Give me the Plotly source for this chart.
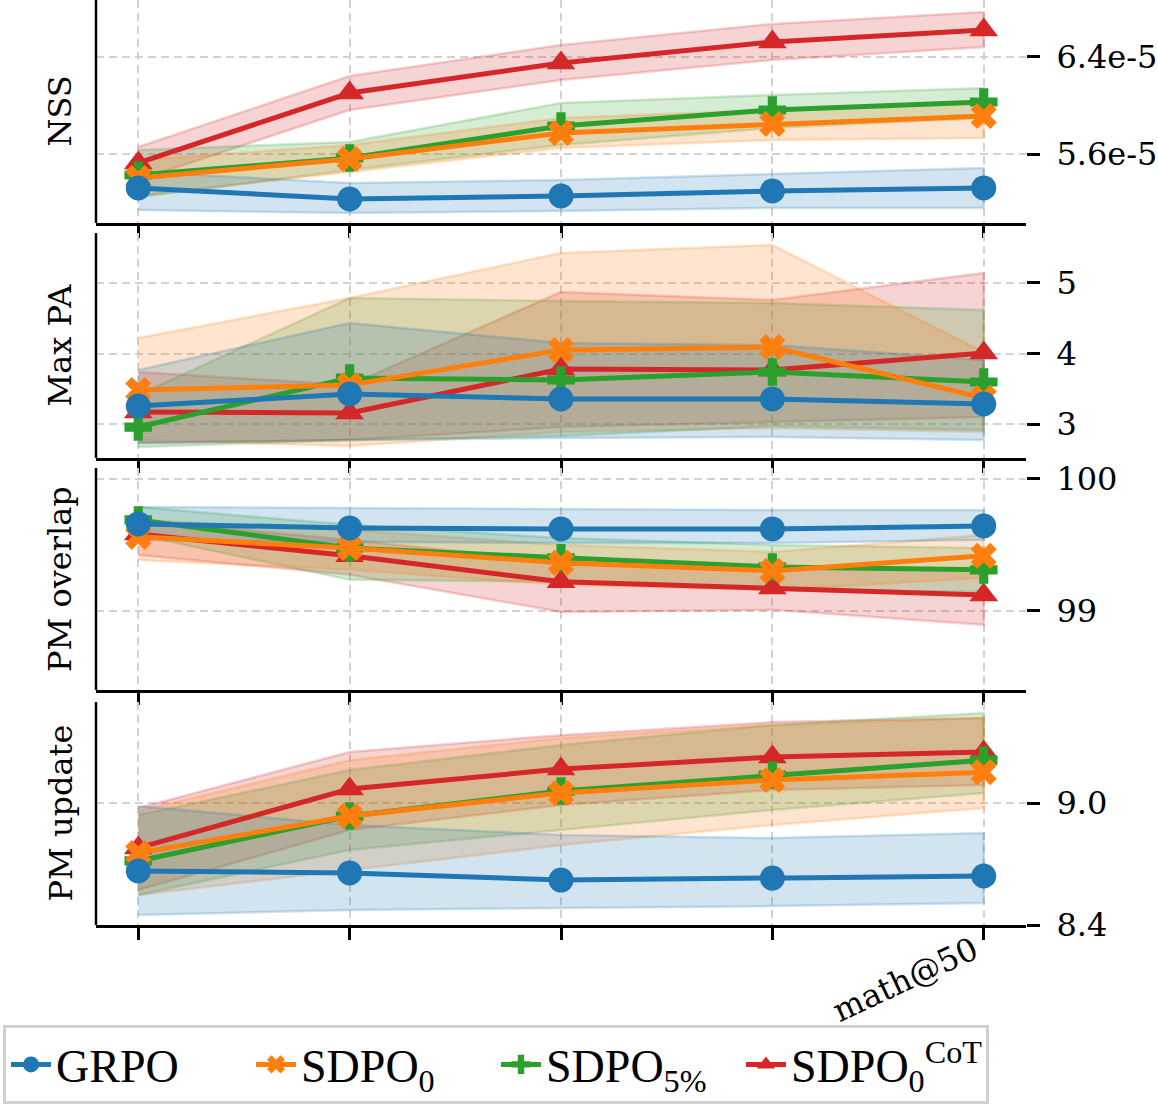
import plotly.graph_objects as go

# ---------------- data ----------------
x_idx = [0, 1, 2, 3, 4]
x_ticktext = ["", "", "", "", "math@50"]

methods = ["GRPO", "SDPO<sub>0</sub>", "SDPO<sub>5%</sub>", "SDPO<sub>0</sub><sup>CoT</sup>"]
colors = ["#1f77b4", "#ff7f0e", "#2ca02c", "#d62728"]
symbols = ["circle", "x", "cross", "triangle-up"]
marker_sizes = [25, 23, 23, 25]

# NSS (order: GRPO, SDPO_0, SDPO_5%, SDPO_0^CoT)
nss_mean = [
    [5.320e-5, 5.229e-5, 5.254e-5, 5.295e-5, 5.320e-5],
    [5.402e-5, 5.559e-5, 5.773e-5, 5.847e-5, 5.913e-5],
    [5.427e-5, 5.567e-5, 5.831e-5, 5.963e-5, 6.029e-5],
    [5.526e-5, 6.103e-5, 6.351e-5, 6.524e-5, 6.623e-5],
]
nss_low = [
    [5.138e-5, 5.113e-5, 5.130e-5, 5.155e-5, 5.155e-5],
    [5.254e-5, 5.452e-5, 5.650e-5, 5.715e-5, 5.732e-5],
    [5.245e-5, 5.468e-5, 5.674e-5, 5.814e-5, 5.897e-5],
    [5.386e-5, 5.963e-5, 6.210e-5, 6.375e-5, 6.482e-5],
]
nss_high = [
    [5.452e-5, 5.361e-5, 5.386e-5, 5.435e-5, 5.485e-5],
    [5.551e-5, 5.674e-5, 5.897e-5, 5.963e-5, 6.037e-5],
    [5.633e-5, 5.699e-5, 6.021e-5, 6.087e-5, 6.144e-5],
    [5.658e-5, 6.243e-5, 6.499e-5, 6.672e-5, 6.771e-5],
]

# Max PA
pa_mean = [
    [3.255, 3.426, 3.355, 3.355, 3.284],
    [3.482, 3.553, 4.050, 4.092, 3.369],
    [2.957, 3.652, 3.624, 3.738, 3.596],
    [3.170, 3.156, 3.780, 3.766, 4.007],
]
pa_low = [
    [2.730, 2.773, 2.801, 2.816, 2.773],
    [2.773, 2.688, 2.887, 2.943, 2.887],
    [2.674, 2.773, 2.830, 2.972, 2.915],
    [2.730, 2.773, 2.957, 3.028, 3.099],
]
pa_high = [
    [3.766, 4.433, 4.149, 4.121, 3.908],
    [4.220, 4.787, 5.426, 5.539, 4.021],
    [3.411, 4.787, 4.745, 4.716, 4.617],
    [3.738, 3.553, 4.872, 4.759, 5.142],
]

# PM overlap
ov_mean = [
    [99.659, 99.629, 99.621, 99.621, 99.644],
    [99.561, 99.477, 99.364, 99.303, 99.417],
    [99.689, 99.477, 99.402, 99.333, 99.311],
    [99.583, 99.417, 99.220, 99.174, 99.121],
]
ov_low = [
    [99.538, 99.523, 99.515, 99.515, 99.538],
    [99.386, 99.311, 99.197, 99.159, 99.250],
    [99.576, 99.235, 99.220, 99.159, 99.144],
    [99.424, 99.273, 98.992, 99.008, 98.894],
]
ov_high = [
    [99.788, 99.780, 99.773, 99.765, 99.765],
    [99.689, 99.614, 99.500, 99.447, 99.576],
    [99.788, 99.652, 99.553, 99.500, 99.477],
    [99.689, 99.538, 99.371, 99.326, 99.311],
]

# PM update
up_mean = [
    [8.666, 8.656, 8.621, 8.631, 8.641],
    [8.754, 8.936, 9.049, 9.113, 9.152],
    [8.715, 8.936, 9.059, 9.138, 9.211],
    [8.779, 9.069, 9.167, 9.226, 9.251],
]
up_low = [
    [8.449, 8.474, 8.484, 8.493, 8.508],
    [8.548, 8.670, 8.793, 8.892, 8.975],
    [8.548, 8.769, 8.867, 8.966, 9.049],
    [8.572, 8.867, 8.990, 9.064, 9.089],
]
up_high = [
    [8.985, 8.892, 8.843, 8.828, 8.852],
    [8.961, 9.211, 9.320, 9.384, 9.418],
    [8.941, 9.162, 9.285, 9.384, 9.443],
    [8.975, 9.251, 9.334, 9.398, 9.418],
]

panel_titles = ["NSS", "Max PA", "PM overlap", "PM update"]
panel_ranges = [[5.031e-5, 6.87e-5], [2.518, 5.709], [98.40, 100.083], [8.4, 9.497]]
panel_tickvals = [[5.6e-5, 6.4e-5], [3, 4, 5], [99, 100], [8.4, 9.0]]
panel_ticktext = [["5.6e-5", "6.4e-5"], ["3", "4", "5"], ["99", "100"], ["8.4", "9.0"]]

# ---------------- figure ----------------
W, H = 1158, 1112
ML, MR, MT, MB = 96, 132, 0, 187
plot_w = W - ML - MR
plot_h = H - MT - MB
# panel pixel extents (top, bottom) measured from top of plot area
panel_px = [(0, 223), (233, 458), (468, 690), (702, 925)]
domains = [[(plot_h - b) / plot_h, (plot_h - t) / plot_h] for t, b in panel_px]

panels = [
    (nss_mean, nss_low, nss_high),
    (pa_mean, pa_low, pa_high),
    (ov_mean, ov_low, ov_high),
    (up_mean, up_low, up_high),
]


def rgba(hexc, a):
    h = hexc.lstrip("#")
    r, g, b = int(h[0:2], 16), int(h[2:4], 16), int(h[4:6], 16)
    return f"rgba({r},{g},{b},{a})"


fig = go.Figure()
order = [3, 2, 1, 0]
for p, (m_mean, m_low, m_high) in enumerate(panels):
    xa = "x" if p == 0 else f"x{p + 1}"
    ya = "y" if p == 0 else f"y{p + 1}"
    for i in order:
        fig.add_trace(go.Scatter(
            x=x_idx + x_idx[::-1],
            y=m_high[i] + m_low[i][::-1],
            fill="toself",
            fillcolor=rgba(colors[i], 0.2),
            line=dict(color=rgba(colors[i], 0.22), width=2.5),
            mode="lines",
            hoverinfo="skip",
            showlegend=False,
            xaxis=xa, yaxis=ya,
        ))
    for i in order:
        fig.add_trace(go.Scatter(
            x=x_idx, y=m_mean[i],
            mode="lines+markers",
            name=methods[i],
            legendrank=i + 1,
            line=dict(color=colors[i], width=5),
            marker=dict(symbol=symbols[i], size=marker_sizes[i], color=colors[i],
                        line=dict(width=0)),
            showlegend=(p == 0),
            xaxis=xa, yaxis=ya,
        ))

grid_color = "#d2d2d2"
tick_font = dict(family="DejaVu Serif", size=32, color="black")
layout = dict(
    width=W, height=H,
    margin=dict(l=ML, r=MR, t=MT, b=MB, autoexpand=False),
    paper_bgcolor="white", plot_bgcolor="white",
    showlegend=True,
    legend=dict(
        orientation="h",
        xref="paper", yref="paper",
        x=(3 - ML) / plot_w, y=-(1025 - plot_h) / plot_h,
        xanchor="left", yanchor="top",
        bordercolor="#d0d0d0", borderwidth=3,
        bgcolor="rgba(255,255,255,0.8)",
        font=dict(family="Liberation Serif", size=46, color="black"),
        entrywidthmode="pixels", entrywidth=190,
        itemwidth=40,
        tracegroupgap=0,
    ),
    annotations=[],
    shapes=[],
)

for p in range(4):
    xk = "xaxis" if p == 0 else f"xaxis{p + 1}"
    yk = "yaxis" if p == 0 else f"yaxis{p + 1}"
    xa = "x" if p == 0 else f"x{p + 1}"
    ya = "y" if p == 0 else f"y{p + 1}"
    layout[xk] = dict(
        domain=[0, 1], anchor=ya,
        range=[-0.2, 4.2],
        tickmode="array", tickvals=x_idx,
        ticktext=x_ticktext if p == 3 else ["" for _ in x_idx],
        tickangle=-25 if p == 3 else 0,
        ticks="outside", ticklen=12, tickwidth=2.5, tickcolor="black",
        ticklabelstandoff=-20 if p == 3 else 0,
        ticklabelshift=-10 if p == 3 else 0,
        showline=True, linecolor="black", linewidth=2.5,
        showgrid=True, gridcolor=grid_color, gridwidth=2, griddash="8px,5px",
        zeroline=False, automargin=False,
        tickfont=tick_font,
    )
    layout[yk] = dict(
        domain=domains[p], anchor=xa,
        side="right",
        range=panel_ranges[p],
        tickmode="array", tickvals=panel_tickvals[p], ticktext=panel_ticktext[p],
        ticks="outside", ticklen=13, tickwidth=2.5, tickcolor="black",
        ticklabelstandoff=10,
        showline=False,
        showgrid=True, gridcolor=grid_color, gridwidth=2, griddash="8px,5px",
        zeroline=False, automargin=False,
        tickfont=tick_font,
    )
    layout["shapes"].append(dict(
        type="line", xref=f"{xa} domain", yref=f"{ya} domain",
        x0=0, x1=0, y0=0, y1=1,
        line=dict(color="black", width=2.5),
    ))
    layout["annotations"].append(dict(
        text=panel_titles[p], textangle=-90,
        xref="paper", yref="paper",
        x=(60 - ML) / plot_w, y=(domains[p][0] + domains[p][1]) / 2,
        xanchor="center", yanchor="middle",
        showarrow=False,
        font=dict(family="DejaVu Serif", size=32, color="black"),
    ))

fig.update_layout(**layout)
fig.write_html("out.html")
